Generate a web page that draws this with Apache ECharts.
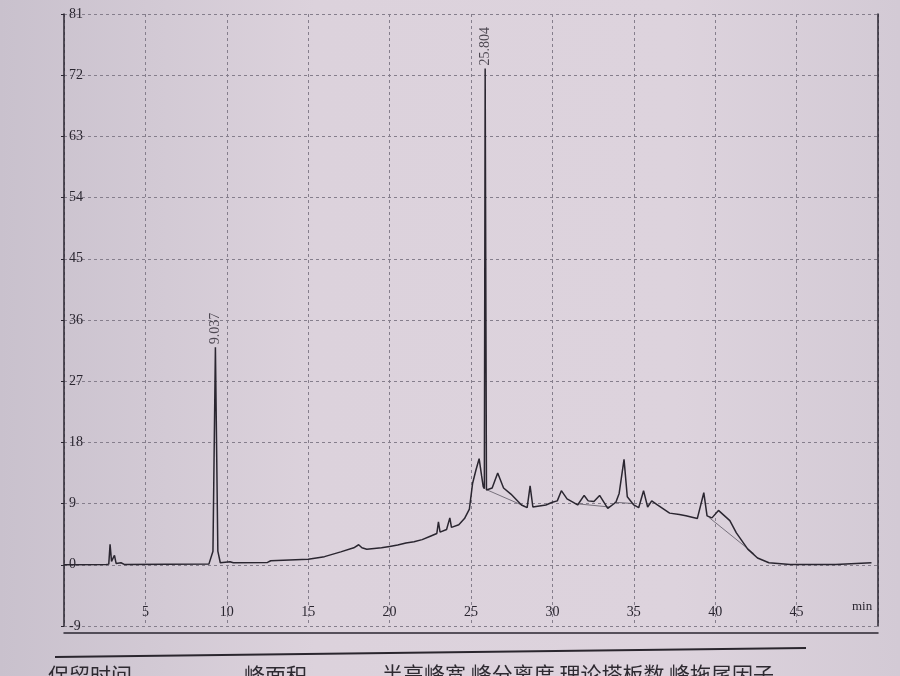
<!DOCTYPE html>
<html>
<head>
<meta charset="utf-8">
<script src="https://cdn.jsdelivr.net/npm/echarts@6/dist/echarts.min.js"></script>
<style>
  html, body { margin: 0; padding: 0; }
  #chromatogram { width: 900px; height: 676px; }
</style>
</head>
<body>
<div id="chromatogram"></div>
<script>
// retention time (min) and detector signal
var traceTime = [
  0, 2.6, 2.75, 2.83, 2.92, 3.0, 3.1, 3.2, 3.5, 3.7,
  8.9, 9.15, 9.3, 9.45, 9.6, 10.2, 10.4, 12.5, 12.7, 15.0,
  16.0, 17.0, 17.8, 18.1, 18.3, 18.6, 19.5, 20.0, 20.5, 21.0,
  21.5, 22.0, 22.5, 22.9, 23.0, 23.1, 23.5, 23.7, 23.8, 24.25,
  24.6, 24.9, 25.1, 25.3, 25.5, 25.65, 25.75, 25.82, 25.87, 25.95,
  26.3, 26.64, 27.0, 27.45, 28.1, 28.45, 28.63, 28.8, 29.6, 30.0,
  30.3, 30.55, 30.9, 31.2, 31.55, 31.95, 32.2, 32.55, 32.9, 33.4,
  33.9, 34.1, 34.4, 34.6, 35.0, 35.3, 35.6, 35.85, 36.1, 36.45,
  37.2, 37.8, 38.2, 38.9, 39.3, 39.5, 39.8, 40.2, 40.9, 41.3,
  42.0, 42.6, 43.3, 44.6, 47.4, 47.5, 49.6
];
var traceSignal = [
  0, 0.05, 0.1, 3.0, 0.5, 0.4, 1.4, 0.2, 0.3, 0.05,
  0.1, 2, 32, 2, 0.3, 0.45, 0.3, 0.35, 0.6, 0.8,
  1.2, 1.9, 2.5, 2.95, 2.5, 2.3, 2.5, 2.7, 2.9, 3.2,
  3.4, 3.7, 4.2, 4.6, 6.3, 4.8, 5.2, 6.9, 5.5, 5.9,
  6.8, 8.2, 12, 13.9, 15.6, 13.1, 11.5, 11.2, 73, 11.0,
  11.3, 13.5, 11.3, 10.4, 8.8, 8.4, 11.6, 8.5, 8.8, 9.2,
  9.4, 10.9, 9.7, 9.3, 8.8, 10.2, 9.4, 9.3, 10.2, 8.3,
  9.2, 10.5, 15.5, 10.0, 8.8, 8.4, 10.9, 8.5, 9.4, 8.8,
  7.6, 7.4, 7.2, 6.8, 10.6, 7.2, 6.9, 8.0, 6.5, 4.7,
  2.3, 1.0, 0.3, 0.05, 0.05, 0.3, 0.3
];

// labelled peaks
var peakTimes = [9.3, 25.87];
var peakHeights = [32, 73];
var peakLabels = ['9.037', '25.804'];

// integration baselines drawn under the hump
var baseStart = [[26.0, 11.0], [31.4, 9.0], [33.8, 9.2], [39.6, 7.0]];
var baseEnd = [[28.3, 8.6], [33.5, 8.5], [35.0, 9.0], [42.4, 1.6]];

var yTicks = { min: -9, max: 81, step: 9 };
var xTicks = { min: 0, max: 50, step: 5 };

var footerLeft = '保留时间';
var footerMid = '峰面积';
var footerRight = '半高峰宽 峰分离度 理论塔板数 峰拖尾因子';

var ink = '#2a2630';
var gridInk = '#857e8c';
var serif = '"Liberation Serif", "DejaVu Serif", serif';

var chart = echarts.init(document.getElementById('chromatogram'));

var traceData = traceTime.map(function (t, i) { return [t, traceSignal[i]]; });
var baseData = [];
for (var i = 0; i < baseStart.length; i++) {
  baseData.push(baseStart[i], baseEnd[i], '-');
}
var peakData = peakTimes.map(function (t, i) {
  return { value: [t, peakHeights[i]], name: peakLabels[i] };
});

chart.setOption({
  backgroundColor: {
    type: 'linear', x: 0, y: 0, x2: 1, y2: 0,
    colorStops: [
      { offset: 0, color: '#c9c1cd' },
      { offset: 0.35, color: '#dcd2dc' },
      { offset: 0.75, color: '#ddd3dd' },
      { offset: 1, color: '#d3cad5' }
    ]
  },
  animation: false,
  grid: { left: 64, right: 22, top: 14, bottom: 50 },
  xAxis: {
    type: 'value',
    min: xTicks.min,
    max: xTicks.max,
    interval: xTicks.step,
    offset: 7,
    name: 'min',
    nameLocation: 'end',
    nameGap: -26,
    nameTextStyle: {
      fontFamily: serif, fontSize: 13, color: ink,
      verticalAlign: 'bottom', padding: [0, 0, 20, 0]
    },
    axisLine: { show: true, onZero: false, lineStyle: { color: ink, width: 1.5 } },
    axisTick: { show: false },
    axisLabel: {
      inside: true,
      margin: 14,
      fontFamily: serif,
      fontSize: 14,
      color: ink,
      formatter: function (v) { return (v === 0 || v === 50) ? '' : v; }
    },
    splitLine: { show: true, lineStyle: { color: gridInk, type: [3, 3], width: 1 } }
  },
  yAxis: [{
    type: 'value',
    min: yTicks.min,
    max: yTicks.max,
    interval: yTicks.step,
    axisLine: { show: true, lineStyle: { color: ink, width: 1.5 } },
    axisTick: { show: true, length: 3, lineStyle: { color: ink } },
    axisLabel: {
      inside: true,
      margin: 5,
      fontFamily: serif,
      fontSize: 14,
      color: ink
    },
    splitLine: { show: true, lineStyle: { color: gridInk, type: [3, 3], width: 1 } }
  }, {
    type: 'value',
    position: 'right',
    min: yTicks.min,
    max: yTicks.max,
    interval: yTicks.step,
    axisLine: { show: true, lineStyle: { color: ink, width: 1.5 } },
    axisTick: { show: false },
    axisLabel: { show: false },
    splitLine: { show: false }
  }],
  series: [
    {
      type: 'line',
      name: 'signal',
      data: traceData,
      showSymbol: false,
      lineStyle: { color: ink, width: 1.5 },
      z: 5
    },
    {
      type: 'line',
      name: 'baseline',
      data: baseData,
      showSymbol: false,
      connectNulls: false,
      lineStyle: { color: '#5d5863', width: 0.8 },
      z: 4
    },
    {
      type: 'scatter',
      name: 'peaks',
      data: peakData,
      symbolSize: 0,
      label: {
        show: true,
        position: 'top',
        rotate: 90,
        align: 'left',
        verticalAlign: 'middle',
        distance: 3,
        fontFamily: serif,
        fontSize: 14,
        color: ink,
        formatter: function (p) { return p.name; }
      },
      z: 6
    }
  ],
  graphic: [
    {
      type: 'line',
      shape: { x1: 55, y1: 657, x2: 806, y2: 648 },
      style: { stroke: '#2a262e', lineWidth: 2.2 }
    },
    {
      type: 'text', left: 48, top: 665,
      style: { text: footerLeft, font: '21px "Noto Sans CJK SC"', fill: '#2e2a31' }
    },
    {
      type: 'text', left: 244, top: 665,
      style: { text: footerMid, font: '21px "Noto Sans CJK SC"', fill: '#2e2a31' }
    },
    {
      type: 'text', left: 382, top: 664,
      style: { text: footerRight, font: '21px "Noto Sans CJK SC"', fill: '#2e2a31' }
    }
  ]
});
</script>
</body>
</html>
